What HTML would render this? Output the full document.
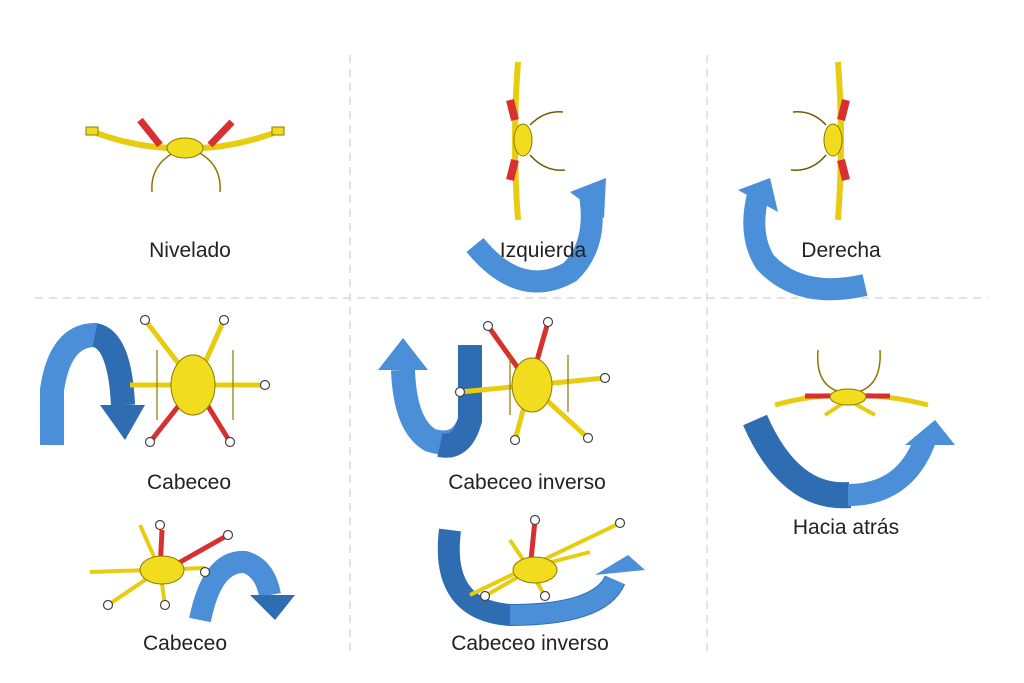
<!DOCTYPE html>
<html><head><meta charset="utf-8"><style>
html,body{margin:0;padding:0;background:#fff;width:1024px;height:683px;overflow:hidden}
svg{display:block}
text{font-family:"Liberation Sans","DejaVu Sans",sans-serif;font-size:21px;fill:#222;text-anchor:middle}
</style></head><body>
<svg width="1024" height="683" viewBox="0 0 1024 683">
<g stroke="#d0d0d0" stroke-width="1.2" stroke-dasharray="8,6" fill="none">
<line x1="350" y1="55" x2="350" y2="655"/><line x1="707" y1="55" x2="707" y2="655"/>
<line x1="35" y1="298" x2="988" y2="298"/>
</g>
<g fill="none" stroke-linecap="butt">
<path d="M475,245 Q520,300 570,272 Q598,245 590,195" stroke="#4a8fd8" stroke-width="22"/>
<polygon points="570,192 606,178 604,218" fill="#4a8fd8"/>
<path d="M865,285 Q800,300 765,262 Q748,235 758,195" stroke="#4a8fd8" stroke-width="22"/>
<polygon points="738,190 770,178 778,212" fill="#4a8fd8"/>
<path d="M52,445 L52,390 Q60,335 95,335 Q120,340 123,405" stroke="#4a8fd8" stroke-width="24"/>
<path d="M95,335 Q120,340 123,405" stroke="#2f6db3" stroke-width="24"/>
<polygon points="100,405 145,405 125,440" fill="#2f6db3"/>
<path d="M470,345 L470,420 Q460,450 430,440 Q405,425 403,370" stroke="#4a8fd8" stroke-width="24"/>
<path d="M470,345 L470,420 Q462,450 440,445" stroke="#2f6db3" stroke-width="24"/>
<polygon points="378,370 428,370 403,338" fill="#4a8fd8"/>
<path d="M755,420 Q790,500 850,495" stroke="#2f6db3" stroke-width="26"/>
<path d="M848,495 Q905,495 925,440" stroke="#4a8fd8" stroke-width="22"/>
<polygon points="905,445 955,445 935,420" fill="#4a8fd8"/>
<path d="M200,620 Q212,560 245,562 Q265,568 270,595" stroke="#4a8fd8" stroke-width="22"/>
<polygon points="250,595 295,595 275,620" fill="#2f6db3"/>
<path d="M450,530 Q440,610 510,615 Q600,615 615,580" stroke="#2f6db3" stroke-width="22"/>
<path d="M510,615 Q600,615 615,580" stroke="#4a8fd8" stroke-width="20"/>
<polygon points="595,575 645,570 628,555" fill="#4a8fd8"/>
</g>
<g stroke="#8a7a00" stroke-width="1" fill="#f2dc1e">
<path d="M88,130 Q140,150 185,148 Q230,150 282,130" stroke-width="6" stroke="#e8cc10" fill="none"/>
<path d="M152,192 Q150,165 175,152 M220,192 Q222,165 198,152" stroke="#8a7a00" stroke-width="1.5" fill="none"/>
<path d="M160,145 L140,120 M210,145 L232,122" stroke="#d83030" stroke-width="7"/>
<ellipse cx="185" cy="148" rx="18" ry="10"/>
<rect x="86" y="127" width="12" height="8"/><rect x="272" y="127" width="12" height="8"/>
<path d="M518,62 Q512,140 518,220" stroke="#e8cc10" stroke-width="6" fill="none"/>
<path d="M510,100 L515,120 M510,180 L515,160" stroke="#d83030" stroke-width="8"/>
<path d="M530,125 Q545,110 563,112 M530,155 Q545,172 565,170" stroke="#6a5e00" stroke-width="1.5" fill="none"/>
<ellipse cx="523" cy="140" rx="9" ry="16"/>
<path d="M838,62 Q844,140 838,220" stroke="#e8cc10" stroke-width="6" fill="none"/>
<path d="M846,100 L841,120 M846,180 L841,160" stroke="#d83030" stroke-width="8"/>
<path d="M826,125 Q812,110 793,112 M826,155 Q812,172 791,170" stroke="#6a5e00" stroke-width="1.5" fill="none"/>
<ellipse cx="833" cy="140" rx="9" ry="16"/>
<path d="M195,385 L145,320 M195,385 L224,320 M130,385 L265,385" stroke="#e8cc10" stroke-width="5"/>
<path d="M195,385 L150,442 M195,385 L230,442" stroke="#d83030" stroke-width="5"/>
<path d="M157,350 V420 M233,350 V420" stroke="#8a7a00" stroke-width="1.2"/>
<ellipse cx="193" cy="385" rx="22" ry="30"/>
<path d="M530,385 L488,326 M530,385 L548,322 M460,392 L605,378 M530,385 L515,440 M530,385 L588,438" stroke="#e8cc10" stroke-width="5"/>
<path d="M530,385 L488,326 M530,385 L548,322" stroke="#d83030" stroke-width="5"/>
<path d="M510,355 V415 M568,355 V412" stroke="#8a7a00" stroke-width="1.2"/>
<ellipse cx="532" cy="385" rx="20" ry="27"/>
<path d="M775,405 Q810,395 848,395 Q890,395 928,405" stroke="#e8cc10" stroke-width="5" fill="none"/>
<path d="M818,350 Q815,385 840,392 M880,350 Q882,385 858,392" stroke="#8a7a00" stroke-width="1.5" fill="none"/>
<path d="M805,396 H830 M866,396 H890" stroke="#d83030" stroke-width="5"/>
<path d="M848,400 L825,415 M848,400 L875,415" stroke="#e8cc10" stroke-width="4"/>
<ellipse cx="848" cy="397" rx="18" ry="8"/>
<path d="M90,572 L205,568 M160,570 L108,605 M160,570 L165,605 M160,570 L140,525" stroke="#e8cc10" stroke-width="4"/>
<path d="M160,570 L162,530 M175,565 L228,535" stroke="#d83030" stroke-width="5"/>
<ellipse cx="162" cy="570" rx="22" ry="14"/>
<path d="M470,595 L620,523 M530,570 L485,596 M530,570 L545,596 M530,570 L510,540 M540,565 L590,552" stroke="#e8cc10" stroke-width="4"/>
<path d="M530,570 L535,520" stroke="#d83030" stroke-width="5"/>
<ellipse cx="535" cy="570" rx="22" ry="13"/>
</g>
<g fill="#fff" stroke="#444" stroke-width="1.2">
<circle cx="145" cy="320" r="4.5"/><circle cx="224" cy="320" r="4.5"/><circle cx="265" cy="385" r="4.5"/><circle cx="150" cy="442" r="4.5"/><circle cx="230" cy="442" r="4.5"/>
<circle cx="488" cy="326" r="4.5"/><circle cx="548" cy="322" r="4.5"/><circle cx="460" cy="392" r="4.5"/><circle cx="605" cy="378" r="4.5"/><circle cx="515" cy="440" r="4.5"/><circle cx="588" cy="438" r="4.5"/>
<circle cx="160" cy="525" r="4.5"/><circle cx="228" cy="535" r="4.5"/><circle cx="108" cy="605" r="4.5"/><circle cx="165" cy="605" r="4.5"/><circle cx="205" cy="572" r="4.5"/>
<circle cx="535" cy="520" r="4.5"/><circle cx="620" cy="523" r="4.5"/><circle cx="485" cy="596" r="4.5"/><circle cx="545" cy="596" r="4.5"/>
</g>
<text x="190" y="257">Nivelado</text>
<text x="543" y="257">Izquierda</text>
<text x="841" y="257">Derecha</text>
<text x="189" y="489">Cabeceo</text>
<text x="527" y="489">Cabeceo inverso</text>
<text x="846" y="534">Hacia atrás</text>
<text x="185" y="650">Cabeceo</text>
<text x="530" y="650">Cabeceo inverso</text>
</svg>
</body></html>
